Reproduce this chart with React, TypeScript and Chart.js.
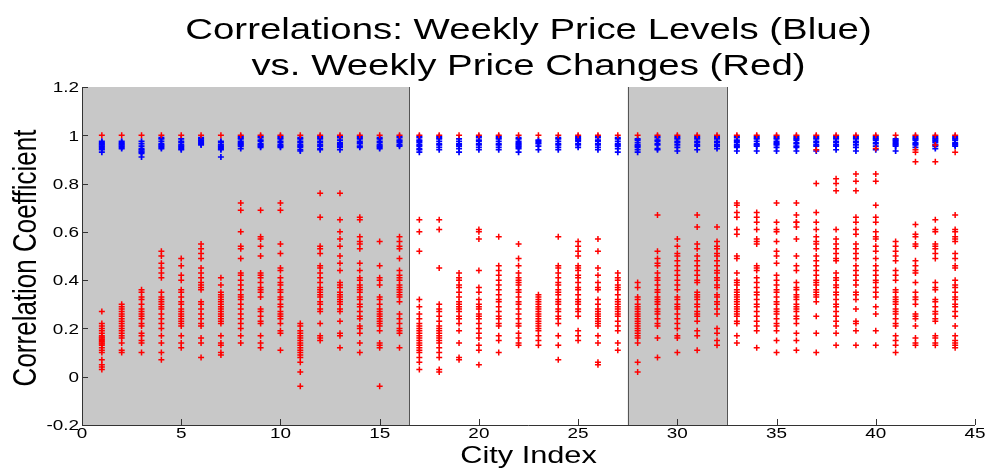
import { useEffect, useRef } from "react";
import { Chart, registerables } from "chart.js";

Chart.register(...registerables);

// ---------------- DATA ----------------
const cityIndex = [
  1, 2, 3, 4, 5, 6, 7, 8, 9, 10, 11, 12, 13, 14, 15, 16, 17, 18, 19, 20, 21, 22,
  23, 24, 25, 26, 27, 28, 29, 30, 31, 32, 33, 34, 35, 36, 37, 38, 39, 40, 41, 42, 43, 44,
];

// self-correlation drawn in red for every city
const selfCorrelation = 1;

// correlations of weekly price changes (red), one list per city
const redChanges: number[][] = [
  [0.27, 0.22, 0.21, 0.2, 0.19, 0.18, 0.17, 0.165, 0.16, 0.155, 0.15, 0.145, 0.14, 0.135, 0.13, 0.12, 0.11, 0.1, 0.07, 0.05, 0.04, 0.03],
  [0.3, 0.29, 0.28, 0.27, 0.26, 0.25, 0.24, 0.23, 0.22, 0.21, 0.2, 0.19, 0.18, 0.17, 0.16, 0.14, 0.11, 0.1],
  [0.36, 0.35, 0.33, 0.32, 0.3, 0.28, 0.27, 0.26, 0.25, 0.24, 0.22, 0.21, 0.18, 0.17, 0.15, 0.14, 0.1],
  [0.52, 0.5, 0.47, 0.45, 0.43, 0.41, 0.35, 0.33, 0.32, 0.31, 0.3, 0.29, 0.28, 0.26, 0.24, 0.22, 0.2, 0.17, 0.14, 0.1, 0.07],
  [0.49, 0.46, 0.42, 0.4, 0.36, 0.35, 0.33, 0.31, 0.3, 0.28, 0.27, 0.26, 0.25, 0.24, 0.23, 0.22, 0.21, 0.17, 0.14, 0.12],
  [0.55, 0.53, 0.51, 0.49, 0.45, 0.43, 0.41, 0.39, 0.38, 0.37, 0.36, 0.31, 0.3, 0.28, 0.26, 0.24, 0.22, 0.21, 0.16, 0.14, 0.08],
  [0.41, 0.38, 0.35, 0.34, 0.33, 0.32, 0.31, 0.3, 0.29, 0.28, 0.27, 0.26, 0.25, 0.24, 0.23, 0.22, 0.17, 0.14, 0.13, 0.1, 0.09],
  [0.72, 0.69, 0.6, 0.54, 0.53, 0.49, 0.43, 0.42, 0.4, 0.38, 0.36, 0.34, 0.33, 0.32, 0.3, 0.28, 0.26, 0.24, 0.22, 0.2, 0.17, 0.14],
  [0.69, 0.58, 0.57, 0.54, 0.5, 0.43, 0.42, 0.41, 0.39, 0.37, 0.36, 0.35, 0.33, 0.28, 0.27, 0.25, 0.23, 0.22, 0.17, 0.14, 0.12],
  [0.72, 0.69, 0.55, 0.51, 0.45, 0.44, 0.41, 0.39, 0.38, 0.36, 0.35, 0.33, 0.32, 0.3, 0.29, 0.27, 0.26, 0.25, 0.24, 0.22, 0.19, 0.18, 0.11],
  [0.22, 0.21, 0.19, 0.18, 0.17, 0.16, 0.15, 0.14, 0.13, 0.12, 0.11, 0.1, 0.09, 0.08, 0.06, 0.02, -0.04],
  [0.76, 0.66, 0.54, 0.53, 0.51, 0.46, 0.45, 0.43, 0.41, 0.39, 0.37, 0.36, 0.35, 0.34, 0.33, 0.31, 0.3, 0.28, 0.27, 0.22, 0.17, 0.16, 0.15],
  [0.76, 0.65, 0.6, 0.57, 0.54, 0.5, 0.47, 0.44, 0.39, 0.38, 0.37, 0.35, 0.34, 0.33, 0.32, 0.31, 0.3, 0.28, 0.27, 0.23, 0.18, 0.17, 0.12],
  [0.66, 0.65, 0.58, 0.56, 0.55, 0.53, 0.47, 0.44, 0.41, 0.4, 0.38, 0.37, 0.36, 0.35, 0.33, 0.32, 0.3, 0.29, 0.27, 0.25, 0.24, 0.21, 0.2, 0.18, 0.14, 0.1],
  [0.56, 0.46, 0.41, 0.4, 0.38, 0.33, 0.32, 0.3, 0.28, 0.27, 0.26, 0.25, 0.24, 0.23, 0.22, 0.21, 0.19, 0.14, 0.13, 0.12, -0.04],
  [0.58, 0.56, 0.54, 0.53, 0.49, 0.44, 0.42, 0.41, 0.4, 0.38, 0.37, 0.36, 0.35, 0.34, 0.33, 0.31, 0.26, 0.24, 0.22, 0.2, 0.19, 0.18, 0.12],
  [0.65, 0.6, 0.52, 0.32, 0.29, 0.26, 0.24, 0.22, 0.21, 0.2, 0.19, 0.18, 0.17, 0.16, 0.15, 0.14, 0.13, 0.12, 0.11, 0.1, 0.08, 0.06, 0.03],
  [0.65, 0.61, 0.45, 0.3, 0.28, 0.27, 0.25, 0.23, 0.21, 0.2, 0.19, 0.18, 0.17, 0.16, 0.15, 0.14, 0.12, 0.1, 0.08, 0.03, 0.02],
  [0.43, 0.41, 0.4, 0.38, 0.37, 0.35, 0.33, 0.31, 0.3, 0.29, 0.28, 0.27, 0.25, 0.24, 0.22, 0.19, 0.14, 0.08, 0.07],
  [0.61, 0.6, 0.57, 0.44, 0.37, 0.35, 0.32, 0.3, 0.29, 0.28, 0.26, 0.25, 0.24, 0.22, 0.2, 0.18, 0.16, 0.13, 0.11, 0.05],
  [0.58, 0.46, 0.44, 0.42, 0.4, 0.38, 0.36, 0.34, 0.32, 0.31, 0.29, 0.27, 0.25, 0.24, 0.22, 0.21, 0.17, 0.15, 0.1],
  [0.55, 0.49, 0.46, 0.43, 0.41, 0.4, 0.39, 0.38, 0.36, 0.35, 0.33, 0.31, 0.3, 0.28, 0.26, 0.24, 0.22, 0.21, 0.18, 0.16, 0.14, 0.13],
  [0.34, 0.33, 0.32, 0.31, 0.3, 0.29, 0.28, 0.27, 0.26, 0.25, 0.24, 0.23, 0.22, 0.21, 0.2, 0.19, 0.17, 0.15, 0.13],
  [0.58, 0.46, 0.45, 0.43, 0.41, 0.39, 0.38, 0.36, 0.35, 0.34, 0.32, 0.31, 0.3, 0.28, 0.27, 0.25, 0.24, 0.22, 0.17, 0.13, 0.07],
  [0.56, 0.54, 0.52, 0.5, 0.46, 0.45, 0.44, 0.42, 0.41, 0.39, 0.37, 0.36, 0.34, 0.32, 0.31, 0.3, 0.28, 0.27, 0.25, 0.19, 0.17, 0.15],
  [0.57, 0.52, 0.45, 0.42, 0.39, 0.37, 0.36, 0.32, 0.3, 0.28, 0.27, 0.26, 0.25, 0.24, 0.23, 0.22, 0.21, 0.17, 0.14, 0.06, 0.05],
  [0.43, 0.41, 0.4, 0.38, 0.37, 0.36, 0.34, 0.32, 0.31, 0.3, 0.29, 0.28, 0.27, 0.26, 0.25, 0.23, 0.21, 0.19, 0.14, 0.11],
  [0.39, 0.37, 0.33, 0.32, 0.3, 0.29, 0.28, 0.27, 0.26, 0.25, 0.24, 0.23, 0.22, 0.21, 0.2, 0.19, 0.18, 0.17, 0.16, 0.14, 0.06, 0.02],
  [0.67, 0.52, 0.49, 0.47, 0.46, 0.43, 0.41, 0.4, 0.38, 0.36, 0.35, 0.33, 0.32, 0.31, 0.3, 0.28, 0.27, 0.26, 0.24, 0.22, 0.21, 0.16, 0.08],
  [0.57, 0.54, 0.51, 0.5, 0.48, 0.46, 0.44, 0.42, 0.4, 0.38, 0.36, 0.33, 0.32, 0.3, 0.29, 0.28, 0.26, 0.24, 0.22, 0.2, 0.17, 0.16, 0.1],
  [0.67, 0.62, 0.55, 0.53, 0.5, 0.48, 0.46, 0.44, 0.42, 0.4, 0.39, 0.35, 0.34, 0.33, 0.32, 0.3, 0.29, 0.27, 0.26, 0.25, 0.23, 0.19, 0.17, 0.11],
  [0.62, 0.56, 0.54, 0.53, 0.51, 0.5, 0.48, 0.46, 0.44, 0.43, 0.41, 0.4, 0.38, 0.37, 0.34, 0.33, 0.31, 0.3, 0.28, 0.26, 0.2, 0.18, 0.15, 0.13],
  [0.72, 0.71, 0.68, 0.66, 0.61, 0.59, 0.5, 0.49, 0.43, 0.4, 0.39, 0.38, 0.36, 0.35, 0.34, 0.33, 0.32, 0.31, 0.3, 0.29, 0.28, 0.27, 0.26, 0.25, 0.23, 0.22, 0.17, 0.14],
  [0.68, 0.66, 0.64, 0.61, 0.57, 0.56, 0.55, 0.46, 0.45, 0.44, 0.41, 0.39, 0.37, 0.35, 0.34, 0.32, 0.3, 0.29, 0.27, 0.25, 0.23, 0.21, 0.19, 0.12],
  [0.72, 0.64, 0.61, 0.6, 0.56, 0.52, 0.5, 0.47, 0.42, 0.4, 0.38, 0.36, 0.35, 0.33, 0.31, 0.3, 0.28, 0.27, 0.26, 0.24, 0.22, 0.21, 0.19, 0.15, 0.1],
  [0.72, 0.67, 0.64, 0.64, 0.62, 0.57, 0.5, 0.46, 0.44, 0.39, 0.37, 0.36, 0.34, 0.33, 0.32, 0.3, 0.29, 0.28, 0.27, 0.25, 0.24, 0.22, 0.18, 0.15, 0.11],
  [0.94, 0.8, 0.68, 0.64, 0.61, 0.58, 0.56, 0.55, 0.53, 0.5, 0.48, 0.46, 0.44, 0.42, 0.4, 0.39, 0.38, 0.36, 0.35, 0.34, 0.33, 0.31, 0.25, 0.18, 0.1],
  [0.82, 0.8, 0.77, 0.61, 0.57, 0.55, 0.53, 0.51, 0.49, 0.48, 0.43, 0.41, 0.4, 0.38, 0.37, 0.35, 0.34, 0.32, 0.3, 0.29, 0.27, 0.25, 0.23, 0.21, 0.18, 0.13],
  [0.84, 0.81, 0.77, 0.66, 0.64, 0.61, 0.59, 0.55, 0.53, 0.51, 0.49, 0.46, 0.44, 0.42, 0.4, 0.38, 0.35, 0.34, 0.32, 0.28, 0.23, 0.22, 0.19, 0.13],
  [0.945, 0.84, 0.81, 0.71, 0.66, 0.64, 0.6, 0.58, 0.57, 0.54, 0.52, 0.49, 0.46, 0.44, 0.42, 0.4, 0.39, 0.37, 0.35, 0.33, 0.29, 0.26, 0.19, 0.13],
  [0.56, 0.54, 0.52, 0.5, 0.48, 0.44, 0.42, 0.4, 0.36, 0.35, 0.33, 0.32, 0.31, 0.3, 0.28, 0.27, 0.26, 0.24, 0.22, 0.21, 0.17, 0.15, 0.13, 0.1],
  [0.94, 0.93, 0.89, 0.63, 0.59, 0.58, 0.55, 0.54, 0.48, 0.46, 0.44, 0.43, 0.39, 0.35, 0.33, 0.32, 0.3, 0.26, 0.25, 0.24, 0.21, 0.16, 0.14, 0.13],
  [0.96, 0.89, 0.65, 0.61, 0.6, 0.55, 0.54, 0.53, 0.51, 0.49, 0.39, 0.37, 0.36, 0.32, 0.31, 0.29, 0.27, 0.26, 0.24, 0.23, 0.17, 0.16, 0.14, 0.13],
  [0.93, 0.67, 0.61, 0.6, 0.58, 0.57, 0.56, 0.51, 0.49, 0.46, 0.45, 0.4, 0.38, 0.37, 0.35, 0.33, 0.32, 0.3, 0.29, 0.27, 0.25, 0.21, 0.17, 0.15, 0.14, 0.13, 0.12],
];

// correlations of weekly price levels (blue), one list per city
const blueLevels: number[][] = [
  [0.975, 0.97, 0.965, 0.96, 0.955, 0.95, 0.945, 0.94, 0.93],
  [0.975, 0.97, 0.965, 0.96, 0.955, 0.95, 0.945],
  [0.975, 0.965, 0.955, 0.945, 0.94, 0.935, 0.93, 0.925, 0.91],
  [0.99, 0.985, 0.975, 0.965, 0.96, 0.955, 0.95, 0.945],
  [0.985, 0.975, 0.97, 0.96, 0.955, 0.95, 0.945, 0.94],
  [0.99, 0.985, 0.98, 0.975, 0.97, 0.965, 0.96],
  [0.975, 0.97, 0.96, 0.955, 0.95, 0.945, 0.94, 0.91],
  [0.995, 0.99, 0.985, 0.975, 0.97, 0.965, 0.96, 0.955, 0.945],
  [0.995, 0.99, 0.98, 0.975, 0.965, 0.96, 0.955, 0.95],
  [0.995, 0.99, 0.985, 0.975, 0.97, 0.96, 0.955, 0.95],
  [0.99, 0.985, 0.975, 0.97, 0.96, 0.955, 0.95, 0.94, 0.935],
  [0.995, 0.99, 0.985, 0.975, 0.97, 0.96, 0.955, 0.945, 0.94],
  [0.995, 0.99, 0.98, 0.97, 0.965, 0.96, 0.955, 0.95, 0.94],
  [0.995, 0.99, 0.985, 0.975, 0.97, 0.965, 0.955, 0.95],
  [0.99, 0.985, 0.975, 0.97, 0.96, 0.955, 0.95, 0.945],
  [0.995, 0.99, 0.98, 0.975, 0.97, 0.96, 0.955],
  [0.995, 0.99, 0.98, 0.975, 0.97, 0.96, 0.955, 0.945, 0.94, 0.93],
  [0.995, 0.99, 0.985, 0.975, 0.965, 0.96, 0.95, 0.94],
  [0.985, 0.975, 0.965, 0.96, 0.955, 0.945, 0.93],
  [0.995, 0.99, 0.98, 0.975, 0.965, 0.96, 0.95, 0.94],
  [0.995, 0.99, 0.985, 0.975, 0.965, 0.96, 0.95, 0.94],
  [0.99, 0.985, 0.975, 0.97, 0.965, 0.96, 0.955, 0.95, 0.945, 0.93],
  [0.98, 0.975, 0.97, 0.965, 0.955, 0.94],
  [0.99, 0.985, 0.975, 0.965, 0.96, 0.95, 0.94],
  [0.995, 0.99, 0.985, 0.98, 0.975, 0.965, 0.96, 0.95],
  [0.995, 0.99, 0.98, 0.975, 0.965, 0.96, 0.95, 0.94],
  [0.99, 0.985, 0.975, 0.965, 0.96, 0.955, 0.945, 0.93],
  [0.985, 0.98, 0.97, 0.96, 0.955, 0.95, 0.94, 0.93],
  [0.995, 0.99, 0.98, 0.975, 0.965, 0.96, 0.945, 0.94],
  [0.995, 0.99, 0.985, 0.975, 0.97, 0.96, 0.95, 0.935],
  [0.995, 0.99, 0.985, 0.975, 0.97, 0.96, 0.955, 0.94],
  [0.995, 0.99, 0.985, 0.975, 0.97, 0.96, 0.955, 0.945],
  [0.995, 0.99, 0.98, 0.975, 0.97, 0.96, 0.955, 0.95, 0.935],
  [0.995, 0.99, 0.985, 0.975, 0.965, 0.96, 0.955, 0.935],
  [0.995, 0.99, 0.985, 0.975, 0.97, 0.965, 0.96, 0.95, 0.935],
  [0.995, 0.99, 0.985, 0.98, 0.97, 0.965, 0.955, 0.95, 0.935],
  [0.995, 0.99, 0.985, 0.975, 0.97, 0.96, 0.955, 0.935],
  [0.995, 0.99, 0.985, 0.975, 0.97, 0.96, 0.955, 0.94],
  [0.995, 0.99, 0.985, 0.975, 0.97, 0.96, 0.95, 0.935],
  [0.995, 0.99, 0.985, 0.98, 0.97, 0.965, 0.955, 0.94],
  [0.985, 0.98, 0.975, 0.97, 0.965, 0.96, 0.955, 0.935],
  [0.995, 0.99, 0.985, 0.98, 0.97, 0.965, 0.96, 0.95],
  [0.995, 0.99, 0.985, 0.98, 0.975, 0.97, 0.96, 0.955, 0.945],
  [0.995, 0.99, 0.985, 0.98, 0.97, 0.965, 0.96, 0.955],
];

const xTicks = [0, 5, 10, 15, 20, 25, 30, 35, 40, 45];
const xTickLabels = ["0", "5", "10", "15", "20", "25", "30", "35", "40", "45"];
const yTicks = [-0.2, 0, 0.2, 0.4, 0.6, 0.8, 1, 1.2];
const yTickLabels = ["-0.2", "0", "0.2", "0.4", "0.6", "0.8", "1", "1.2"];

// shaded city groups (in city-index units) and their dividing lines
const shadedStarts = [0, 27.5];
const shadedEnds = [16.5, 32.5];
const dividers = [16.5, 27.5, 32.5];

const titleLines = ["Correlations: Weekly Price Levels (Blue)", "vs. Weekly Price Changes (Red)"];
const xTitle = "City Index";
const yTitle = "Correlation Coefficient";

// ---------------- DRAWING ----------------
const FONT = "'Liberation Sans', Arial, Helvetica, sans-serif";
const STRETCH = 1.28;

function stretchedText(
  ctx: CanvasRenderingContext2D,
  text: string,
  x: number,
  y: number,
  size: number,
  sx: number,
  align: CanvasTextAlign,
  baseline: CanvasTextBaseline,
  rotate = false
) {
  ctx.save();
  ctx.translate(x, y);
  ctx.scale(sx, 1);
  if (rotate) ctx.rotate(-Math.PI / 2);
  ctx.font = `${size}px ${FONT}`;
  ctx.textAlign = align;
  ctx.textBaseline = baseline;
  ctx.fillStyle = "#000";
  ctx.fillText(text, 0, 0);
  ctx.restore();
}

const decorPlugin = {
  id: "matlabDecor",
  beforeDatasetsDraw(chart: any) {
    const { ctx, chartArea: a, scales } = chart;
    const xs = scales.x;
    ctx.save();
    ctx.fillStyle = "#c8c8c8";
    shadedStarts.forEach((s, i) => {
      const x0 = xs.getPixelForValue(s);
      const x1 = xs.getPixelForValue(shadedEnds[i]);
      ctx.fillRect(x0, a.top, x1 - x0, a.bottom - a.top);
    });
    ctx.strokeStyle = "#555";
    ctx.lineWidth = 1;
    dividers.forEach((d) => {
      const x = Math.round(xs.getPixelForValue(d)) + 0.5;
      ctx.beginPath();
      ctx.moveTo(x, a.top);
      ctx.lineTo(x, a.bottom);
      ctx.stroke();
    });
    ctx.restore();
  },
  afterDraw(chart: any) {
    const { ctx, chartArea: a, scales } = chart;
    const xs = scales.x;
    const ys = scales.y;
    ctx.save();
    ctx.strokeStyle = "#333";
    ctx.lineWidth = 1;
    ctx.beginPath();
    ctx.moveTo(a.left + 0.5, a.top);
    ctx.lineTo(a.left + 0.5, a.bottom + 0.5);
    ctx.lineTo(a.right, a.bottom + 0.5);
    ctx.stroke();
    ctx.beginPath();
    xTicks.forEach((t) => {
      const x = Math.round(xs.getPixelForValue(t)) + 0.5;
      ctx.moveTo(x, a.bottom);
      ctx.lineTo(x, a.bottom - 6);
    });
    yTicks.forEach((t) => {
      const y = Math.round(ys.getPixelForValue(t)) + 0.5;
      ctx.moveTo(a.left, y);
      ctx.lineTo(a.left + 6, y);
    });
    ctx.stroke();
    ctx.restore();

    xTicks.forEach((t, i) => {
      stretchedText(ctx, xTickLabels[i], xs.getPixelForValue(t), a.bottom + 9, 15.5, 1.22, "center", "middle");
    });
    yTicks.forEach((t, i) => {
      stretchedText(ctx, yTickLabels[i], a.left - 3, ys.getPixelForValue(t) + 1, 15.5, 1.22, "right", "middle");
    });

    const cx = (a.left + a.right) / 2;
    stretchedText(ctx, titleLines[0], cx, 39, 30, STRETCH, "center", "alphabetic");
    stretchedText(ctx, titleLines[1], cx, 75, 30, STRETCH, "center", "alphabetic");
    stretchedText(ctx, xTitle, cx, 463, 24, STRETCH, "center", "alphabetic");
    stretchedText(ctx, yTitle, 36, (a.top + a.bottom) / 2 + 2, 26, STRETCH, "center", "alphabetic", true);
  },
};

export default function App() {
  const canvasRef = useRef<HTMLCanvasElement | null>(null);

  useEffect(() => {
    const canvas = canvasRef.current;
    if (!canvas) return;

    const redPoints: { x: number; y: number }[] = [];
    const bluePoints: { x: number; y: number }[] = [];
    cityIndex.forEach((c, i) => {
      blueLevels[i].forEach((v) => bluePoints.push({ x: c, y: v }));
      redPoints.push({ x: c, y: selfCorrelation });
      redChanges[i].forEach((v) => redPoints.push({ x: c, y: v }));
    });

    const chart = new Chart(canvas, {
      type: "scatter",
      data: {
        datasets: [
          {
            label: "Weekly Price Changes",
            data: redPoints,
            pointStyle: "cross",
            pointRadius: 3,
            pointBorderWidth: 1.5,
            borderColor: "#ff0000",
            backgroundColor: "#ff0000",
          },
          {
            label: "Weekly Price Levels",
            data: bluePoints,
            pointStyle: "cross",
            pointRadius: 3,
            pointBorderWidth: 1.7,
            borderColor: "#0000ff",
            backgroundColor: "#0000ff",
          },
        ],
      },
      options: {
        responsive: false,
        animation: false,
        events: [],
        layout: { padding: { left: 82, top: 87, right: 12, bottom: 45 } },
        plugins: { legend: { display: false }, tooltip: { enabled: false }, title: { display: false } },
        scales: {
          x: { type: "linear", min: 0, max: 45, display: false },
          y: { type: "linear", min: -0.2, max: 1.2, display: false },
        },
      },
      plugins: [decorPlugin],
    });

    return () => chart.destroy();
  }, []);

  return (
    <div style={{ position: "absolute", left: 0, top: 0, width: 987, height: 470, background: "#fff" }}>
      <canvas ref={canvasRef} width={987} height={470} style={{ display: "block", width: 987, height: 470 }} />
    </div>
  );
}
